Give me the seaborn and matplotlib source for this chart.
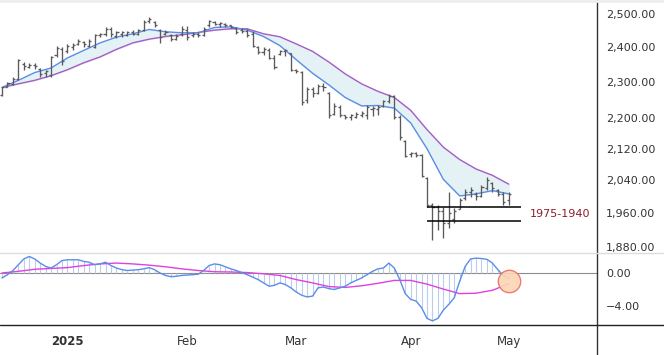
import matplotlib
matplotlib.use('Agg')
import matplotlib.pyplot as plt
from matplotlib.lines import Line2D
from matplotlib.ticker import NullLocator
import seaborn as sns

# daily OHLC bars, one per trading day
opens = [2265, 2286, 2296, 2310, 2352, 2344, 2348, 2338, 2325, 2320,
         2378, 2395, 2388, 2400, 2410, 2415, 2405, 2402, 2435, 2440,
         2455, 2432, 2440, 2436, 2445, 2440, 2452, 2480, 2476, 2450,
         2440, 2436, 2425, 2438, 2450, 2435, 2440, 2436, 2465, 2475,
         2470, 2470, 2465, 2458, 2450, 2448, 2440, 2400, 2385, 2392,
         2370, 2380, 2388, 2382, 2335, 2328, 2250, 2282, 2270, 2290,
         2270, 2212, 2232, 2208, 2205, 2205, 2210, 2210, 2225, 2225,
         2235, 2248, 2260, 2205, 2140, 2105, 2108, 2104, 2045, 1980,
         1975, 1965, 1935, 1945, 1970, 1995, 2010, 2005, 2000, 2020,
         2032, 2015, 2005, 1990]
highs = [2287, 2301, 2313, 2367, 2358, 2355, 2355, 2341, 2335, 2375,
         2404, 2401, 2410, 2413, 2425, 2419, 2425, 2440, 2443, 2461,
         2461, 2449, 2449, 2449, 2452, 2455, 2482, 2491, 2479, 2455,
         2452, 2440, 2440, 2464, 2464, 2446, 2446, 2461, 2482, 2479,
         2476, 2473, 2467, 2461, 2458, 2455, 2449, 2404, 2401, 2398,
         2378, 2393, 2395, 2384, 2338, 2330, 2287, 2285, 2296, 2298,
         2273, 2243, 2237, 2210, 2213, 2218, 2221, 2237, 2235, 2237,
         2251, 2268, 2265, 2210, 2143, 2111, 2111, 2106, 2048, 1984,
         1979, 1974, 2011, 1972, 1996, 2018, 2023, 2011, 2028, 2048,
         2035, 2018, 2011, 2011]
lows = [2262, 2285, 2293, 2307, 2335, 2341, 2338, 2315, 2315, 2313,
        2372, 2350, 2384, 2393, 2407, 2401, 2401, 2398, 2431, 2434,
        2431, 2428, 2431, 2434, 2437, 2437, 2449, 2473, 2461, 2413,
        2437, 2419, 2422, 2434, 2422, 2431, 2431, 2434, 2461, 2467,
        2461, 2461, 2458, 2440, 2443, 2431, 2401, 2381, 2378, 2367,
        2338, 2378, 2375, 2330, 2327, 2237, 2243, 2259, 2268, 2276,
        2202, 2210, 2205, 2199, 2197, 2202, 2205, 2199, 2207, 2210,
        2232, 2243, 2199, 2143, 2098, 2098, 2098, 2048, 1974, 1896,
        1919, 1900, 1924, 1936, 1969, 1991, 1998, 1991, 1998, 2015,
        2011, 2001, 1979, 1979]
closes = [2285, 2298, 2308, 2362, 2345, 2350, 2345, 2322, 2330, 2372,
          2398, 2360, 2405, 2408, 2420, 2410, 2420, 2435, 2440, 2455,
          2440, 2445, 2444, 2446, 2440, 2450, 2476, 2486, 2465, 2430,
          2445, 2425, 2432, 2455, 2430, 2440, 2435, 2455, 2478, 2470,
          2472, 2465, 2460, 2445, 2448, 2435, 2405, 2385, 2395, 2370,
          2342, 2390, 2392, 2335, 2330, 2245, 2280, 2270, 2290, 2285,
          2210, 2235, 2210, 2205, 2210, 2212, 2215, 2230, 2228, 2232,
          2248, 2262, 2205, 2150, 2102, 2108, 2104, 2050, 1978, 1975,
          1965, 1935, 1960, 1965, 1992, 2010, 2015, 2000, 2022, 2040,
          2020, 2005, 1985, 2005]
bars = list(range(len(closes)))

# moving averages read every third bar
ma_bars = list(range(0, 94, 3))
fast_ma = [2285, 2305, 2327, 2340, 2369, 2391, 2413, 2430, 2440, 2453,
           2446, 2443, 2443, 2459, 2461, 2451, 2432, 2405, 2364, 2325,
           2292, 2257, 2234, 2235, 2228, 2188, 2120, 2042, 2001, 2006,
           2014, 2006]
slow_ma = [2285, 2295, 2305, 2318, 2335, 2355, 2372, 2394, 2413, 2424,
           2432, 2437, 2444, 2451, 2455, 2455, 2440, 2431, 2410, 2388,
           2357, 2323, 2295, 2274, 2257, 2222, 2170, 2124, 2092, 2068,
           2052, 2030]

# oscillator (per bar) and its signal line (every third bar)
osc = [-0.6, -0.2, 0.3, 1.0, 1.7, 2.0, 1.7, 1.2, 0.8, 0.6,
       1.0, 1.5, 1.6, 1.6, 1.6, 1.4, 1.3, 1.0, 1.1, 1.3,
       0.9, 0.6, 0.4, 0.3, 0.35, 0.4, 0.5, 0.65, 0.4, 0.0,
       -0.3, -0.45, -0.4, -0.3, -0.25, -0.2, -0.15, 0.3, 0.9, 1.1,
       1.0, 0.75, 0.5, 0.3, 0.05, -0.2, -0.5, -0.8, -1.2, -1.6,
       -1.5, -1.2, -1.4, -1.8, -2.3, -2.7, -2.9, -2.8, -1.8, -1.7,
       -1.9, -2.0, -1.8, -1.6, -1.2, -0.9, -0.6, -0.2, 0.2, 0.5,
       0.6, 1.2, 0.6, -0.8, -2.5, -3.2, -3.4, -4.2, -5.5, -5.8,
       -5.5, -4.5, -3.8, -3.0, -1.0, 0.8, 1.7, 1.8, 1.75, 1.65,
       1.2, 0.4, -0.3, -0.7]
signal = [0.0, 0.2, 0.45, 0.55, 0.65, 0.9, 1.1, 1.2, 1.1, 0.95,
          0.75, 0.5, 0.3, 0.15, 0.12, 0.05, -0.1, -0.3, -0.8, -1.2,
          -1.65, -1.75, -1.55, -1.25, -0.9, -0.9, -1.35, -1.95, -2.5, -2.45,
          -2.1, -1.3]

price_ticks = [1880, 1960, 2040, 2120, 2200, 2300, 2400, 2500]
osc_ticks = [-4, 0]
month_bars = [12, 34, 54, 75, 93]
month_labels = ['2025', 'Feb', 'Mar', 'Apr', 'May']
zone_top, zone_bottom = 1975, 1940
zone_start, zone_end = 78, 95.3

sns.set_style('white')
plt.rcParams['font.family'] = ['DejaVu Sans']

W, H = 664, 355
fig = plt.figure(figsize=(W / 100, H / 100), dpi=100)
ax = fig.add_axes([0, 1 - 253 / H, 597 / W, 253 / H])
ax2 = fig.add_axes([0, 1 - 325 / H, 597 / W, 72 / H], sharex=ax)

bar_col = '#5a5a5a'
blue = '#5b8de8'
purple = '#a65cc4'

# price panel
ax.fill_between(ma_bars, fast_ma, slow_ma, color='#e4f2f6', zorder=1)
sns.lineplot(x=ma_bars, y=slow_ma, ax=ax, color=purple, lw=1.0, zorder=3)
sns.lineplot(x=ma_bars, y=fast_ma, ax=ax, color=blue, lw=1.0, zorder=3)
ax.vlines(bars, lows, highs, color=bar_col, lw=0.95, zorder=4)
ax.hlines(opens, [b - 0.38 for b in bars], bars, color=bar_col, lw=0.95, zorder=4)
ax.hlines(closes, bars, [b + 0.38 for b in bars], color=bar_col, lw=0.95, zorder=4)

ax.hlines([zone_top, zone_bottom], zone_start, zone_end, color='black', lw=1.1, zorder=5)
ax.text(zone_end + 1.5, (zone_top * zone_bottom) ** 0.5, f'{zone_top}-{zone_bottom}',
        color='#8b1c2c', fontsize=8, va='center', ha='left')

ax.set_yscale('log')
ax.set_ylim(1866, 2543)
ax.set_yticks(price_ticks)
ax.set_yticklabels([f'{t:,.2f}' for t in price_ticks])
ax.yaxis.set_minor_locator(NullLocator())
ax.yaxis.tick_right()
ax.tick_params(axis='y', length=0, pad=6.5, labelsize=8, labelcolor='#333333')
ax.tick_params(axis='x', length=0, labelbottom=False)
ax.set_xlim(-0.37, 109.2)
ax.set_xlabel('')
ax.set_ylabel('')
for s in ax.spines.values():
    s.set_visible(False)

# oscillator panel
ax2.axhline(0, color='#8c8c8c', lw=0.8, zorder=1)
ax2.vlines(bars, 0, osc, color='#b9cdf0', lw=0.8, zorder=2)
sns.lineplot(x=ma_bars, y=signal, ax=ax2, color='#e040e0', lw=1.0, zorder=3)
sns.lineplot(x=bars, y=osc, ax=ax2, color=blue, lw=1.0, zorder=4)
ax2.scatter([bars[-1]], [(osc[-1] + signal[-1]) / 2], s=260, color='#fdd5b4',
            edgecolor='#e8706a', lw=1.0, alpha=0.9, zorder=5)
ax2.set_ylim(-6.3, 2.42)
ax2.set_yticks(osc_ticks)
ax2.set_yticklabels(['\u22124.00', '0.00'])
ax2.yaxis.tick_right()
ax2.tick_params(axis='y', length=0, pad=6.5, labelsize=8, labelcolor='#333333')
ax2.set_xticks(month_bars)
ax2.set_xticklabels(month_labels)
ax2.tick_params(axis='x', length=0, pad=7, labelsize=8.5, labelcolor='#333333')
ax2.get_xticklabels()[0].set_fontweight('bold')
ax2.set_xlabel('')
ax2.set_ylabel('')
for s in ax2.spines.values():
    s.set_visible(False)

# frame lines of the chart
fig.add_artist(Line2D([597 / W, 597 / W], [0, 1], color='#333333', lw=1.0))
fig.add_artist(Line2D([0, 1], [1 - 325 / H, 1 - 325 / H], color='#222222', lw=1.0))
fig.add_artist(Line2D([0, 1], [1 - 253 / H, 1 - 253 / H], color='#dddddd', lw=1.0))
fig.add_artist(Line2D([0, 1], [1 - 1 / H, 1 - 1 / H], color='#eeeeee', lw=2.0))

fig.savefig('out.png', dpi=100)
